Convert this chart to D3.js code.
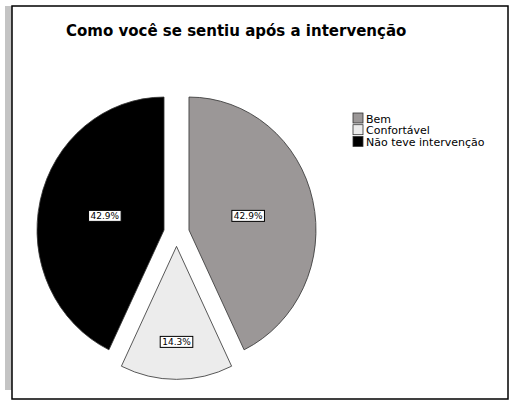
<!DOCTYPE html>
<html lang="pt">
<head>
    <meta charset="UTF-8">
    <title>Como você se sentiu após a intervenção</title>
    <script src="https://d3js.org/d3.v7.min.js"></script>
    <style>
        body { margin: 0; background: #fff; }
        svg { display: block; }
        .title { font-family: "DejaVu Sans", sans-serif; font-weight: bold; font-size: 15px; }
        .legend text { font-family: "DejaVu Sans", sans-serif; font-size: 11px; }
        .lbl text { font-family: "DejaVu Sans", sans-serif; font-size: 9px; }
    </style>
</head>
<body>
<svg id="chart" width="513" height="406"></svg>
<script>
    const categories = ["Bem", "Confortável", "Não teve intervenção"];
    const percents = [42.9, 14.3, 42.9];
    const sliceColors = ["#9b9797", "#ececec", "#000000"];

    const svg = d3.select("#chart");

    // grey strip + frame
    svg.append("rect").attr("x", 5).attr("y", 6).attr("width", 7).attr("height", 384).attr("fill", "#c4c4c4");
    svg.append("rect").attr("x", 12).attr("y", 6).attr("width", 496).attr("height", 393)
        .attr("fill", "#fff").attr("stroke", "#000").attr("stroke-width", 1.5);

    svg.append("text").attr("class", "title")
        .attr("x", 66).attr("y", 36)
        .text("Como você se sentiu após a intervenção");

    const cx = 176.5, cy = 233, R = 127, yStretch = 1.047, explode = 12.8;

    const color = d3.scaleOrdinal().domain(categories).range(sliceColors);
    const pie = d3.pie().sort(null).value(d => d.value);
    const arcs = pie(categories.map((c, i) => ({ name: c, value: percents[i] })));
    const arc = d3.arc().innerRadius(0).outerRadius(R);
    const mid = d => (d.startAngle + d.endAngle) / 2;

    const g = svg.append("g").attr("transform", `translate(${cx},${cy}) scale(1,${yStretch})`);
    g.selectAll("path")
        .data(arcs)
        .join("path")
        .attr("transform", d => `translate(${explode * Math.sin(mid(d))},${-explode * Math.cos(mid(d))})`)
        .attr("d", arc)
        .attr("fill", d => color(d.data.name))
        .attr("stroke", "#333")
        .attr("stroke-width", 0.8);

    // value labels in boxes
    const lbl = svg.append("g").attr("class", "lbl");
    arcs.forEach(d => {
        const r = d.data.value < 20 ? 104 : 73.5;
        const x = cx + r * Math.sin(mid(d));
        const y = cy - r * Math.cos(mid(d)) * yStretch;
        const t = lbl.append("text")
            .attr("x", x).attr("y", y + 3.2)
            .attr("text-anchor", "middle")
            .text(d.data.value.toFixed(1) + "%");
        const w = t.node().getComputedTextLength();
        lbl.insert("rect", () => t.node())
            .attr("x", x - w / 2 - 2).attr("y", y - 5.5)
            .attr("width", w + 4).attr("height", 11)
            .attr("fill", "#fff").attr("stroke", "#000").attr("stroke-width", 1);
    });

    // legend
    const leg = svg.append("g").attr("class", "legend").attr("transform", "translate(353,113)");
    const row = leg.selectAll("g").data(categories).join("g")
        .attr("transform", (d, i) => `translate(0,${i * 11.7})`);
    row.append("rect").attr("width", 10).attr("height", 10)
        .attr("fill", d => color(d)).attr("stroke", "#333").attr("stroke-width", 0.8);
    row.append("text").attr("x", 13).attr("y", 9.5).text(d => d);
</script>
</body>
</html>
